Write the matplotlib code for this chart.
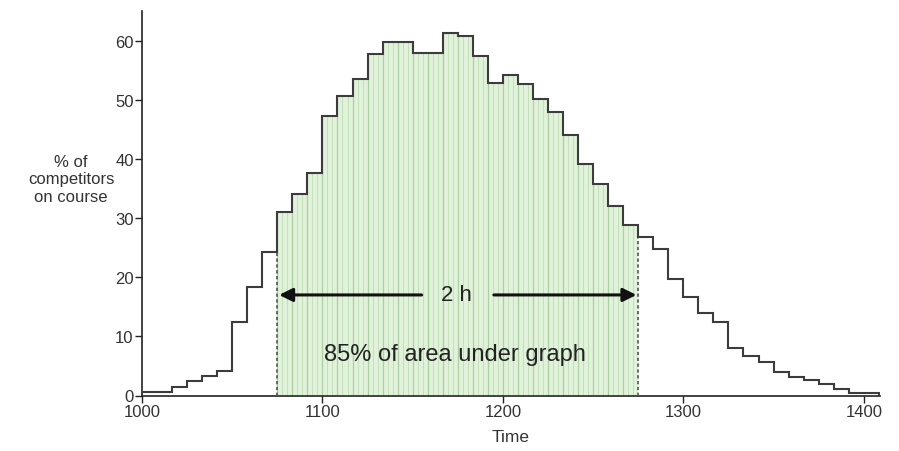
import numpy as np
import matplotlib
matplotlib.use("Agg")
import matplotlib.pyplot as plt

# ---- data ----
bin_start = 1000.0
bin_width = 100.0 / 12.0          # 5-minute bins
pct_on_course = [
    0.6, 0.6, 1.4, 2.5, 3.3, 4.2, 12.4, 18.3, 24.2,
    31.1, 34.1, 37.6, 47.3, 50.6, 53.5, 57.8, 59.7, 59.7, 57.9, 57.9,
    61.3, 60.7, 57.4, 52.8, 54.2, 52.6, 50.1, 47.9, 44.1, 39.1, 35.8,
    32.1, 28.8,
    26.8, 24.7, 19.7, 16.6, 14.0, 12.5, 8.0, 6.6, 5.6, 3.9, 3.2, 2.6,
    1.9, 1.1, 0.4, 0.4,
]
shade_from, shade_to = 1075, 1275
xticks = [1000, 1100, 1200, 1300, 1400]
yticks = [0, 10, 20, 30, 40, 50, 60]
span_label = "2 h"
area_label = "85% of area under graph"

plt.rcParams['font.family'] = ['Liberation Sans', 'DejaVu Sans']

vals = np.array(pct_on_course)
edges = bin_start + bin_width * np.arange(len(vals) + 1)

fig = plt.figure(figsize=(8.99, 4.52), dpi=100)
ax = fig.add_axes([142 / 899, 1 - 396.5 / 452, (880 - 142) / 899, (396.5 - 12) / 452])

# shaded region
sel = (edges[:-1] >= shade_from - 1e-6) & (edges[1:] <= shade_to + 1e-6)
xs = np.concatenate([[e0, e1] for e0, e1 in zip(edges[:-1][sel], edges[1:][sel])])
ys = np.repeat(vals[sel], 2)
ax.fill_between(xs, 0, ys, color='#e1f2da', lw=0, zorder=1)

# vertical hatch lines inside the shaded region
sub = 3
for e0, v in zip(edges[:-1][sel], vals[sel]):
    for k in range(sub):
        xv = e0 + k * bin_width / sub
        if k == 0:
            ax.vlines(xv, 0, v, color='#acd0a2', lw=0.9, zorder=2)
        else:
            ax.vlines(xv, 0, v, color='#c4e0bb', lw=0.7, zorder=2)

# dashed boundaries
i0 = int(np.argmin(np.abs(edges - shade_from)))
i1 = int(np.argmin(np.abs(edges - shade_to)))
ax.vlines(edges[i0], 0, vals[i0], color='#4a5a48', lw=1.2, ls=(0, (2, 1.5)), zorder=3)
ax.vlines(edges[i1], 0, vals[i1 - 1], color='#4a5a48', lw=1.2, ls=(0, (2, 1.5)), zorder=3)

# step outline
ax.stairs(vals, edges, color='#3c3c3c', lw=1.5, zorder=4)

# arrows
yarr = 17
xmid = (shade_from + shade_to) / 2
gap = 20
ax.annotate('', xy=(shade_from + 1, yarr), xytext=(xmid - gap, yarr),
            arrowprops=dict(arrowstyle='-|>', color='#111111', lw=2.2,
                            mutation_scale=20, shrinkA=0, shrinkB=0), zorder=5)
ax.annotate('', xy=(shade_to - 1, yarr), xytext=(xmid + gap, yarr),
            arrowprops=dict(arrowstyle='-|>', color='#111111', lw=2.2,
                            mutation_scale=20, shrinkA=0, shrinkB=0), zorder=5)
ax.text(xmid - 0.5, yarr + 0.1, span_label, ha='center', va='center',
        fontsize=16, color='#222222', zorder=6)
ax.text(xmid - 1.5, 7.0, area_label, ha='center', va='center',
        fontsize=17, color='#222222', zorder=6)

ax.set_xlim(1000, 1409)
ax.set_ylim(0, 65)
ax.set_xticks(xticks)
ax.set_yticks(yticks)
for s in ['top', 'right']:
    ax.spines[s].set_visible(False)
for s in ['left', 'bottom']:
    ax.spines[s].set_color('#222222')
    ax.spines[s].set_linewidth(1.2)
ax.tick_params(direction='out', length=5, width=1, colors='#222222',
               labelsize=12, labelcolor='#333333', pad=1)
ax.set_xlabel('Time', fontsize=12.5, color='#333333', labelpad=7)
fig.text(71 / 899, 1 - 180 / 452, '% of\ncompetitors\non course', ha='center',
         va='center', fontsize=12, color='#333333', linespacing=1.2)

fig.savefig('out.png', dpi=100, facecolor='white')
